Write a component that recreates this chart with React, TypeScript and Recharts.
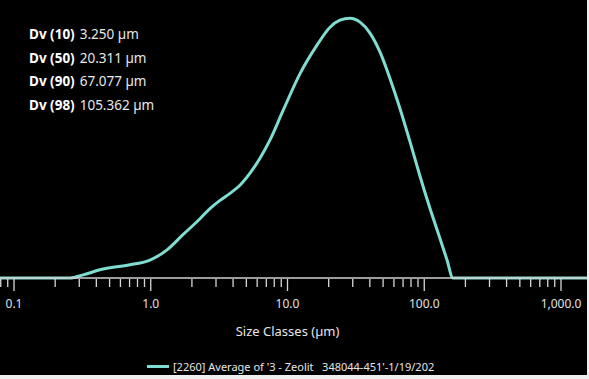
import React from "react";
import { Legend, Line, LineChart, XAxis, YAxis } from "recharts";

// particle size (µm) and volume density values
const SIZES = [
  0.079, 0.257, 0.32, 0.425, 0.705, 0.987, 1.315, 1.72, 2.29, 2.71, 3.21, 3.8,
  4.49, 5.32, 6.29, 7.45, 9.27, 12.35, 16.43, 20.46, 24.2, 28.6, 33.9, 40.1,
  47.5, 56.2, 66.5, 78.7, 93.1, 110.2, 130.4, 146.7, 162.3, 1549,
];
const DENSITY = [
  0, 0, 0.08, 0.21, 0.34, 0.46, 0.72, 1.11, 1.52, 1.78, 1.99, 2.17, 2.38, 2.69,
  3.07, 3.54, 4.29, 5.24, 5.97, 6.43, 6.61, 6.66, 6.56, 6.28, 5.79, 5.11, 4.34,
  3.49, 2.61, 1.78, 1.01, 0.46, 0, 0,
];

const MAJOR_TICKS = [0.1, 1, 10, 100, 1000];
const MINOR_TICKS = [
  0.08, 0.09, 0.2, 0.3, 0.4, 0.5, 0.6, 0.7, 0.8, 0.9, 2, 3, 4, 5, 6, 7, 8, 9,
  20, 30, 40, 50, 60, 70, 80, 90, 200, 300, 400, 500, 600, 700, 800, 900,
];

const DV_LABELS = ["Dv (10)", "Dv (50)", "Dv (90)", "Dv (98)"];
const DV_VALUES = ["3.250 µm", "20.311 µm", "67.077 µm", "105.362 µm"];

const SERIES_NAME = "[2260] Average of '3 - Zeolit   348044-451'-1/19/2020";

const data = SIZES.map((s, i) => ({ size: s, density: DENSITY[i] }));
const allTicks = [...MAJOR_TICKS, ...MINOR_TICKS].sort((a, b) => a - b);

const FONT = "'Noto Sans', 'Open Sans', sans-serif";
const TEAL = "#7fdcd0";

function SizeTick(props: any) {
  const { x, y, payload } = props;
  const major = MAJOR_TICKS.includes(payload.value);
  return (
    <g>
      <line
        x1={x}
        x2={x}
        y1={y + 1}
        y2={y + (major ? 13 : 9)}
        stroke="#d8d8d8"
        strokeWidth={1.3}
      />
      {major && (
        <text
          x={x}
          y={y + 30}
          textAnchor="middle"
          fill="#e0e0e0"
          fontSize={12}
          fontFamily={FONT}
        >
          {payload.value.toLocaleString("en-US", { minimumFractionDigits: 1 })}
        </text>
      )}
    </g>
  );
}

function LegendContent() {
  return (
    <div
      style={{
        display: "flex",
        alignItems: "center",
        marginLeft: 147,
        width: 287,
        overflow: "hidden",
        whiteSpace: "pre",
        fontFamily: FONT,
        fontSize: 11,
        color: "#e6e6e6",
      }}
    >
      <span
        style={{
          display: "inline-block",
          width: 22,
          height: 3,
          background: TEAL,
          marginRight: 4,
          flexShrink: 0,
        }}
      />
      {SERIES_NAME}
    </div>
  );
}

export default function App() {
  return (
    <div
      style={{
        position: "absolute",
        left: 0,
        top: 0,
        width: 589,
        height: 379,
        background: "#efefef",
      }}
    >
      <div
        style={{
          position: "relative",
          width: 587,
          height: 375,
          background: "#000",
        }}
      >
        <LineChart
          width={587}
          height={375}
          data={data}
          margin={{ top: 5, right: 0, left: 0, bottom: 22 }}
        >
          <XAxis
            dataKey="size"
            type="number"
            scale="log"
            domain={[0.079, 1549]}
            allowDataOverflow
            ticks={allTicks}
            interval={0}
            tickSize={0}
            tickMargin={0}
            tickLine={false}
            tick={<SizeTick />}
            axisLine={{ stroke: "#d0d0d0", strokeWidth: 1.5 }}
            height={60}
            label={{
              value: "Size Classes (µm)",
              position: "insideBottom",
              offset: 2,
              dx: -6,
              fill: "#e6e6e6",
              fontSize: 13,
              fontFamily: FONT,
            }}
          />
          <YAxis hide domain={[0, 7]} />
          <Legend
            verticalAlign="bottom"
            content={<LegendContent />}
            wrapperStyle={{ top: 359, left: 0, width: 587 }}
          />
          <Line
            dataKey="density"
            name={SERIES_NAME}
            type="monotone"
            stroke={TEAL}
            strokeWidth={3}
            dot={false}
            isAnimationActive={false}
          />
        </LineChart>
        <div
          style={{
            position: "absolute",
            left: 29,
            top: 23,
            fontFamily: FONT,
            fontSize: 13.5,
            lineHeight: "23.5px",
            color: "#e8e8e8",
          }}
        >
          {DV_LABELS.map((l, i) => (
            <div key={l}>
              <span style={{ fontWeight: 700, color: "#fff", marginRight: 5 }}>
                {l}
              </span>
              {DV_VALUES[i]}
            </div>
          ))}
        </div>
      </div>
    </div>
  );
}
